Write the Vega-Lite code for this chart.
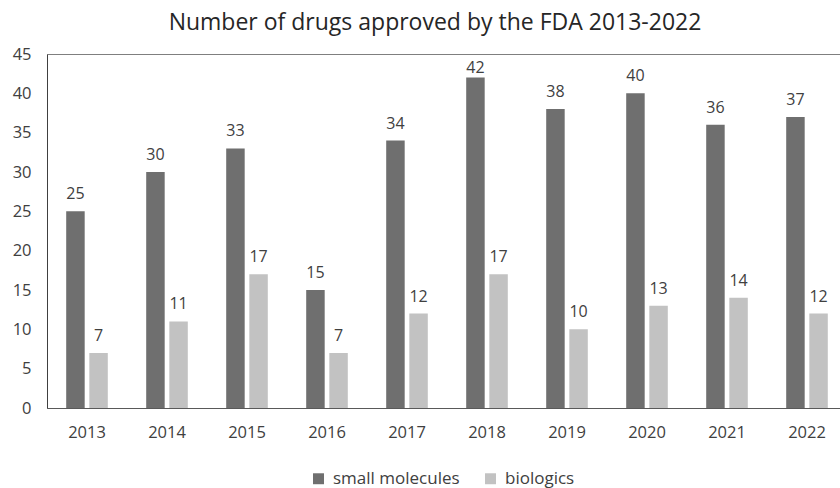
{
  "$schema": "https://vega.github.io/schema/vega-lite/v6.json",
  "autosize": {"type": "none"},
  "padding": {"left": 47, "top": 54, "right": 0, "bottom": 80},
  "width": 800,
  "height": 354,
  "background": "white",
  "config": {
    "font": "Open Sans",
    "view": {"stroke": "#7f7f7f", "strokeWidth": 1}
  },
  "title": {
    "text": "Number of drugs approved by the FDA 2013-2022",
    "fontSize": 23,
    "fontWeight": "normal",
    "color": "#262626",
    "anchor": "middle",
    "dx": -12,
    "offset": 11
  },
  "data": {
    "values": [
      {"year": "2013", "type": "small molecules", "count": 25},
      {"year": "2013", "type": "biologics", "count": 7},
      {"year": "2014", "type": "small molecules", "count": 30},
      {"year": "2014", "type": "biologics", "count": 11},
      {"year": "2015", "type": "small molecules", "count": 33},
      {"year": "2015", "type": "biologics", "count": 17},
      {"year": "2016", "type": "small molecules", "count": 15},
      {"year": "2016", "type": "biologics", "count": 7},
      {"year": "2017", "type": "small molecules", "count": 34},
      {"year": "2017", "type": "biologics", "count": 12},
      {"year": "2018", "type": "small molecules", "count": 42},
      {"year": "2018", "type": "biologics", "count": 17},
      {"year": "2019", "type": "small molecules", "count": 38},
      {"year": "2019", "type": "biologics", "count": 10},
      {"year": "2020", "type": "small molecules", "count": 40},
      {"year": "2020", "type": "biologics", "count": 13},
      {"year": "2021", "type": "small molecules", "count": 36},
      {"year": "2021", "type": "biologics", "count": 14},
      {"year": "2022", "type": "small molecules", "count": 37},
      {"year": "2022", "type": "biologics", "count": 12}
    ]
  },
  "encoding": {
    "x": {
      "field": "year", "type": "nominal",
      "scale": {"paddingInner": 0.48, "paddingOuter": 0.24},
      "axis": {"title": null, "labelAngle": 0, "ticks": false, "domainColor": "#595959", "labelFontSize": 16.5, "labelColor": "#404040", "labelPadding": 16}
    },
    "xOffset": {
      "field": "type", "type": "nominal",
      "sort": ["small molecules", "biologics"],
      "scale": {"paddingInner": 0.2, "paddingOuter": 0}
    },
    "y": {
      "field": "count", "type": "quantitative",
      "scale": {"domain": [0, 45]},
      "axis": {"title": null, "values": [0,5,10,15,20,25,30,35,40,45], "grid": false, "ticks": false, "domainColor": "#404040", "labelFontSize": 16.5, "labelColor": "#404040", "labelPadding": 16}
    }
  },
  "layer": [
    {
      "mark": {"type": "bar"},
      "encoding": {
        "color": {
          "field": "type", "type": "nominal",
          "sort": ["small molecules", "biologics"],
          "scale": {"domain": ["small molecules", "biologics"], "range": ["#6f6f6f", "#c2c2c2"]},
          "legend": {
            "title": null,
            "orient": "none",
            "direction": "horizontal",
            "legendX": 263,
            "legendY": 416,
            "symbolType": "square",
            "symbolSize": 120,
            "symbolStrokeWidth": 0,
            "labelFontSize": 17,
            "labelColor": "#404040",
            "columnPadding": 22,
            "labelOffset": 6
          }
        }
      }
    },
    {
      "transform": [{"filter": "datum.count < 42"}],
      "mark": {"type": "text", "baseline": "alphabetic", "dy": -12, "fontSize": 16, "fill": "#404040"},
      "encoding": {"text": {"field": "count", "type": "quantitative"}}
    },
    {
      "transform": [{"filter": "datum.count >= 42"}],
      "mark": {"type": "text", "baseline": "alphabetic", "dy": -5, "fontSize": 16, "fill": "#404040"},
      "encoding": {"text": {"field": "count", "type": "quantitative"}}
    }
  ]
}
